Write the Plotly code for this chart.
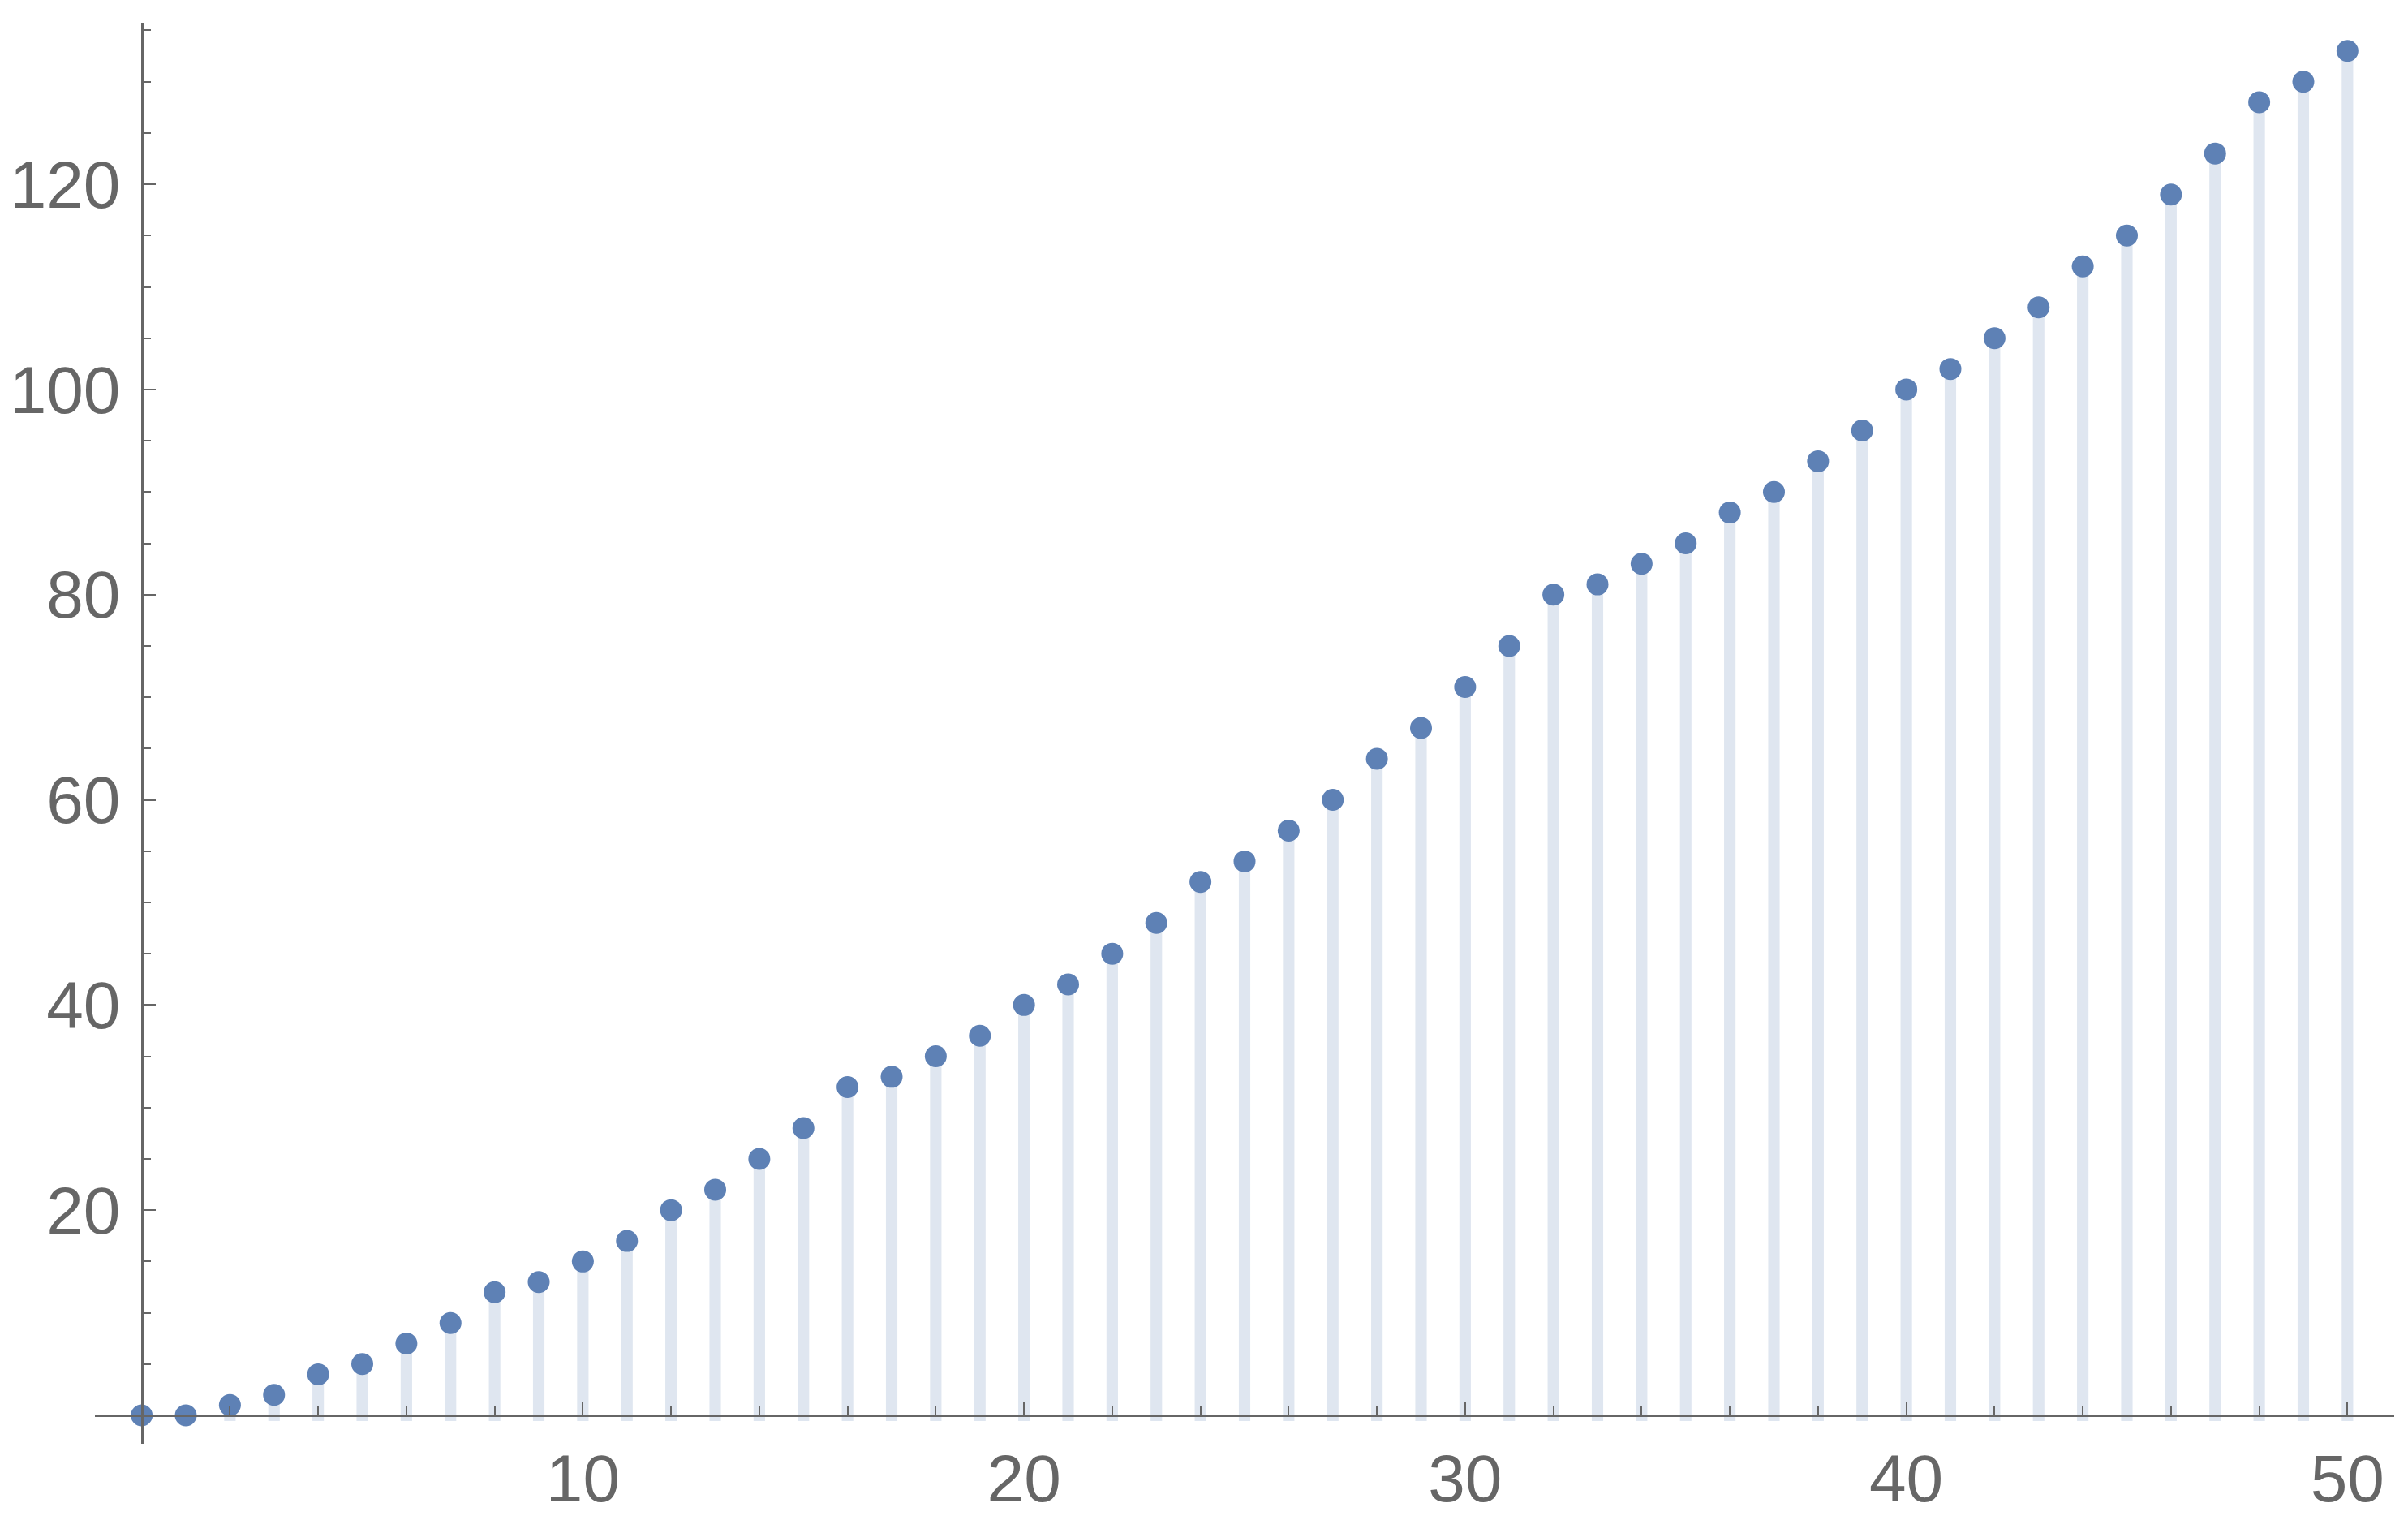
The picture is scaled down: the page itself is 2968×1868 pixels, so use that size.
import plotly.graph_objects as go

# values (n = 0..50)
n = list(range(51))
counts = [0, 0, 1, 2, 4, 5, 7, 9, 12, 13,
          15, 17, 20, 22, 25, 28, 32, 33, 35, 37,
          40, 42, 45, 48, 52, 54, 57, 60, 64, 67,
          71, 75, 80, 81, 83, 85, 88, 90, 93, 96,
          100, 102, 105, 108, 112, 115, 119, 123, 128, 130,
          133]

x_ticks = [10, 20, 30, 40, 50]
y_ticks = [20, 40, 60, 80, 100, 120]

point_color = "#5E81B5"
stem_color = "#DFE6F0"
axis_color = "#666666"

x_range = [-1.06, 51.06]
y_range = [-2.77, 135.75]
overhang = 0.55  # stems poke a little below the axis, like in Mathematica

fig = go.Figure()
fig.add_trace(go.Bar(
    x=n, y=[c + overhang for c in counts], base=-overhang,
    width=0.26, marker={"color": stem_color, "line": {"width": 0}},
    hoverinfo="skip",
))
fig.add_trace(go.Scatter(
    x=n, y=counts, mode="markers",
    marker={"color": point_color, "size": 27},
))

tick_font = {"family": "Liberation Sans, Arial, sans-serif", "size": 82, "color": axis_color}

fig.update_layout(
    width=2968, height=1868,
    margin={"l": 117, "r": 17, "t": 28, "b": 89, "autoexpand": False},
    paper_bgcolor="white", plot_bgcolor="white",
    showlegend=False,
    xaxis={
        "range": x_range, "anchor": "free", "automargin": False,
        "position": (0 - y_range[0]) / (y_range[1] - y_range[0]),
        "showline": True, "linecolor": axis_color, "linewidth": 2.5,
        "showgrid": False, "zeroline": False,
        "tickmode": "array", "tickvals": x_ticks, "ticktext": [str(t) for t in x_ticks],
        "ticks": "inside", "ticklen": 16, "tickwidth": 2, "tickcolor": axis_color,
        "ticklabelstandoff": 6,
        "tickfont": tick_font,
        "minor": {"dtick": 2, "tick0": 0, "ticks": "inside", "ticklen": 10,
                  "tickwidth": 2, "tickcolor": axis_color, "showgrid": False},
    },
    yaxis={
        "range": y_range, "anchor": "free", "automargin": False,
        "position": (0 - x_range[0]) / (x_range[1] - x_range[0]),
        "showline": True, "linecolor": axis_color, "linewidth": 2.5,
        "showgrid": False, "zeroline": False,
        "tickmode": "array", "tickvals": y_ticks, "ticktext": [str(t) for t in y_ticks],
        "ticks": "inside", "ticklen": 16, "tickwidth": 2, "tickcolor": axis_color,
        "ticklabelstandoff": 9,
        "tickfont": tick_font,
        "minor": {"dtick": 5, "tick0": 0, "ticks": "inside", "ticklen": 10,
                  "tickwidth": 2, "tickcolor": axis_color, "showgrid": False},
    },
)

# drop the page's default 8px body margin so the figure sits at the corner
fig.write_html("out.html", config={"displayModeBar": False},
               post_script="document.body.style.margin = '0px';")
